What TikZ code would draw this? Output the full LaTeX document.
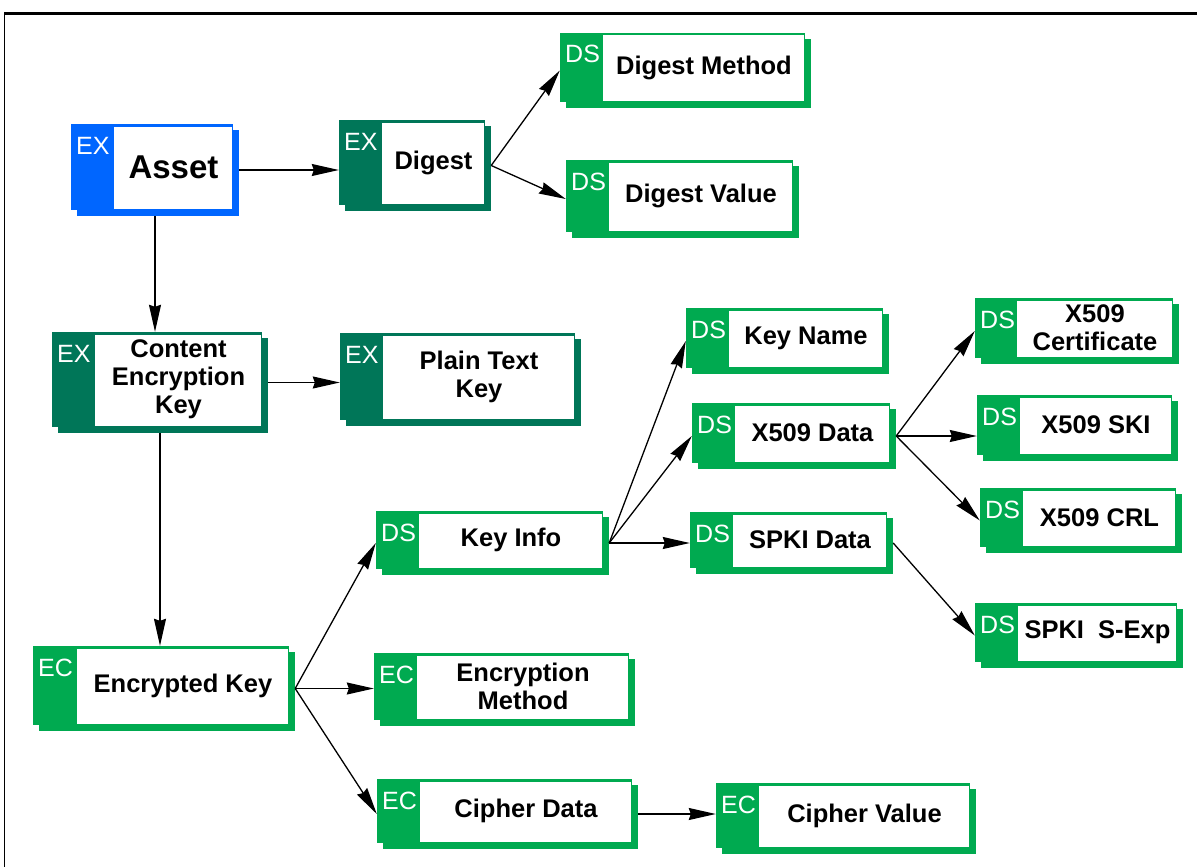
\documentclass[tikz,border=0pt]{standalone}
\usepackage{fontspec}
\setmainfont{Liberation Sans}
\usetikzlibrary{fit,arrows.meta}
\definecolor{exblue}{RGB}{0,102,255}
\definecolor{exteal}{RGB}{0,118,88}
\definecolor{dsgreen}{RGB}{0,170,80}
\tikzset{
  boxtext/.style={font=\fontsize{25.5}{28}\selectfont\bfseries, align=center, inner sep=0pt},
  tagtext/.style={font=\fontsize{25}{28}\selectfont, text=white, inner sep=0pt},
  conn/.style={line width=1.3pt, -{Stealth[length=27pt,width=12pt,inset=2pt]}}
}
% #1 name, #2 x1, #3 y1, #4 x2, #5 y2, #6 left edge of the white panel,
% #7 colour, #8 tag, #9 label
\newcommand\databox[9]{%
  \fill[#7] (#2+6,#3+6) rectangle (#4+6,#5+6);
  \node[fit={(#2,#3)(#4,#5)}, inner sep=0pt, fill=#7] (#1-face) {};
  \fill[white] (#6,#3+2.5) rectangle (#4-1.5,#5-1.5);
  \node[tagtext, anchor=base west] (#1-tag) at (#2+5,#3+30) {#8};
  \node[boxtext] (#1-text) at ({(#6+#4)/2},{(#3+#5)/2}) {#9};
  \node[fit={(#2,#3)(#4+6,#5+6)}, inner sep=0pt] (#1) {};
}
\begin{document}
\begin{tikzpicture}[x=1pt,y=-1pt]
\useasboundingbox (0,0) rectangle (1197,867);
% page frame
\draw[line width=3pt] (4,13.5) -- (1197,13.5);
\draw[line width=1.5pt] (4.5,12) -- (4.5,867);

% boxes
\databox{asset}{71}{124}{233}{210}{114}{exblue}{EX}{\fontsize{33}{36}\selectfont Asset}
\databox{digest}{339}{120}{485}{205}{382}{exteal}{EX}{Digest}
\databox{dmethod}{560}{33}{805}{102}{603}{dsgreen}{DS}{Digest Method}
\databox{dvalue}{566}{160}{793}{232}{609}{dsgreen}{DS}{Digest Value}
\databox{cek}{52}{332}{262}{427}{95}{exteal}{EX}{Content\\Encryption\\Key}
\databox{ptk}{340}{333}{575}{420}{383}{exteal}{EX}{Plain Text\\Key}
\databox{ekey}{33}{646}{289}{725}{77}{dsgreen}{EC}{Encrypted Key}
\databox{kinfo}{376}{511}{603}{569}{419}{dsgreen}{DS}{Key Info}
\databox{emethod}{374}{653}{629}{720}{417}{dsgreen}{EC}{Encryption\\Method}
\databox{cdata}{377}{779}{632}{843}{420}{dsgreen}{EC}{Cipher Data}
\databox{cvalue}{716}{783}{970}{848}{759}{dsgreen}{EC}{Cipher Value}
\databox{kname}{686}{308}{883}{368}{729}{dsgreen}{DS}{Key Name}
\databox{xdata}{692}{403}{890}{463}{735}{dsgreen}{DS}{X509 Data}
\databox{sdata}{690}{512}{887}{568}{733}{dsgreen}{DS}{SPKI Data}
\databox{xcert}{975}{298}{1173}{358}{1017}{dsgreen}{DS}{X509\\Certificate}
\databox{xski}{977}{395}{1172}{455}{1020}{dsgreen}{DS}{X509 SKI}
\databox{xcrl}{980}{488}{1176}{547}{1023}{dsgreen}{DS}{X509 CRL}
\databox{sexp}{975}{603}{1177}{662}{1018}{dsgreen}{DS}{SPKI\ \ S-Exp}

% connectors
\draw[conn] (asset.east) -- (asset.east -| digest.west);
\draw[conn] (digest.east) -- (dmethod.west);
\draw[conn] (digest.east) -- (dvalue.west);
\draw[conn] (asset.south) -- (asset.south |- cek.north);
\draw[conn] (cek.east) -- (cek.east -| ptk.west);
\draw[conn] (cek.south) -- (cek.south |- ekey.north);
\draw[conn] (ekey.east) -- (kinfo.west);
\draw[conn] (ekey.east) -- (ekey.east -| emethod.west);
\draw[conn] (ekey.east) -- (cdata.west);
\draw[conn] (cdata.east) -- (cdata.east -| cvalue.west);
\draw[conn] (kinfo.east) -- (kname.west);
\draw[conn] (kinfo.east) -- (xdata.west);
\draw[conn] (kinfo.east) -- (kinfo.east -| sdata.west);
\draw[conn] (xdata.east) -- (xcert.west);
\draw[conn] (xdata.east) -- (xdata.east -| xski.west);
\draw[conn] (xdata.east) -- (xcrl.west);
\draw[conn] (sdata.east) -- (sexp.west);
\end{tikzpicture}
\end{document}
